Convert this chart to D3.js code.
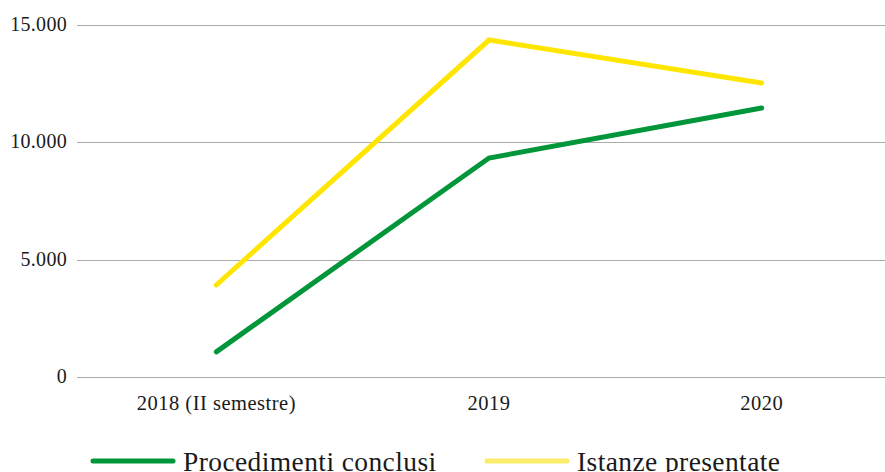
<!DOCTYPE html>
<html lang="it">
<head>
<meta charset="UTF-8">
<script src="https://d3js.org/d3.v7.min.js"></script>
<style>
  html, body { margin: 0; padding: 0; background: #fff; overflow: hidden; }
  svg { display: block; font-family: "Liberation Serif", "DejaVu Serif", serif; }
</style>
</head>
<body>
<div id="chart"></div>
<script>
// data
const categories = ["2018 (II semestre)", "2019", "2020"];
const procedimentiConclusi = [1070, 9330, 11460];
const istanzePresentate = [3920, 14360, 12530];
const yTicks = [0, 5000, 10000, 15000];

const series = [
  { name: "Procedimenti conclusi", values: procedimentiConclusi, color: "#009639", legendColor: "#009639" },
  { name: "Istanze presentate", values: istanzePresentate, color: "#ffe600", legendColor: "#fbeb6a" }
];

const W = 885, H = 472;
const plot = { left: 77, right: 885, top: 25, bottom: 377 };

const svg = d3.select("#chart").append("svg")
  .attr("width", W)
  .attr("height", H);

const x = d3.scalePoint()
  .domain(categories)
  .range([80, 898])
  .padding(0.5);

const y = d3.scaleLinear()
  .domain([0, 15000])
  .range([plot.bottom, plot.top]);

const fmt = d => d3.format(",")(d).replace(/,/g, ".");

// gridlines
svg.append("g")
  .selectAll("line")
  .data(yTicks)
  .join("line")
  .attr("x1", plot.left)
  .attr("x2", plot.right)
  .attr("y1", d => Math.round(y(d)) + 0.5)
  .attr("y2", d => Math.round(y(d)) + 0.5)
  .attr("stroke", "#aaaaaa")
  .attr("stroke-width", 1.2);

// y labels
svg.append("g")
  .selectAll("text")
  .data(yTicks)
  .join("text")
  .attr("x", 67)
  .attr("y", d => y(d) + 6)
  .attr("text-anchor", "end")
  .attr("font-size", 20)
  .attr("letter-spacing", 0.3)
  .attr("fill", "#1a1a1a")
  .text(fmt);

// x labels
svg.append("g")
  .selectAll("text")
  .data(categories)
  .join("text")
  .attr("x", d => x(d))
  .attr("y", 410)
  .attr("text-anchor", "middle")
  .attr("font-size", 20.5)
  .attr("letter-spacing", 0.5)
  .attr("fill", "#1a1a1a")
  .text(d => d);

// lines
const line = d3.line()
  .x((d, i) => x(categories[i]))
  .y(d => y(d));

svg.append("g")
  .selectAll("path")
  .data(series.slice().reverse())
  .join("path")
  .attr("d", d => line(d.values))
  .attr("fill", "none")
  .attr("stroke", d => d.color)
  .attr("stroke-width", 5)
  .attr("stroke-linecap", "round")
  .attr("stroke-linejoin", "miter");

// legend
const legendX = [93, 487];
const legend = svg.append("g")
  .selectAll("g")
  .data(series)
  .join("g")
  .attr("transform", (d, i) => `translate(${legendX[i]},461)`);

legend.append("line")
  .attr("x1", 0)
  .attr("x2", 80)
  .attr("stroke", d => d.legendColor)
  .attr("stroke-width", 5)
  .attr("stroke-linecap", "round");

legend.append("text")
  .attr("x", 90)
  .attr("y", 10)
  .attr("font-size", 27.5)
  .attr("letter-spacing", 0.4)
  .attr("fill", "#1a1a1a")
  .text(d => d.name);
</script>
</body>
</html>
